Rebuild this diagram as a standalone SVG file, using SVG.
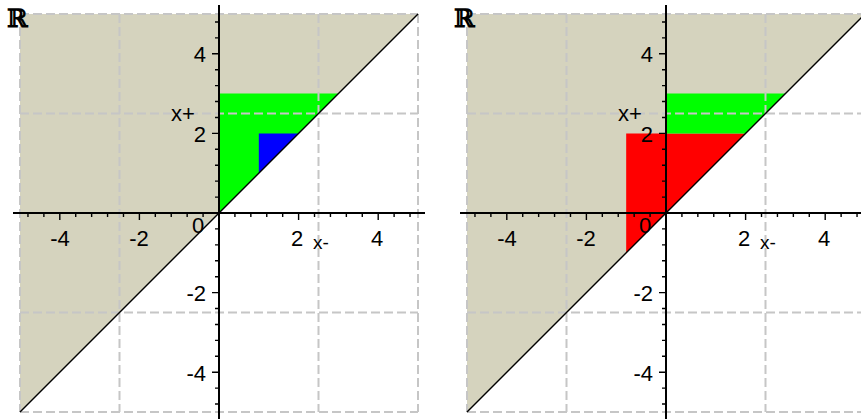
<svg xmlns="http://www.w3.org/2000/svg" width="861" height="419" viewBox="0 0 861 419">
<style>
.bg{fill:#ffffff}
.tan{fill:#d5d3be;stroke:none}
.grn{fill:#00ff00;stroke:none}
.blu{fill:#0000ff;stroke:none}
.red{fill:#ff0000;stroke:none}
.grid{stroke:#c6c6c6;stroke-width:2;stroke-dasharray:9 4;fill:none}
.diag{stroke:#000;stroke-width:1.4;fill:none}
.ax{stroke:#000;stroke-width:2;fill:none}
.tk{stroke:#000;stroke-width:1.4;fill:none}
.num{font-family:"Liberation Sans",Arial,sans-serif;font-size:22px;fill:#000}
.lab{font-family:"Liberation Sans",Arial,sans-serif;font-size:22px;fill:#000}
.rr{font-family:"DejaVu Serif","Liberation Serif",serif;font-size:25px;font-weight:bold;fill:#000}
</style>
<defs>
<path id="ticks" d="M-191.04 0v4M-175.12 0v4M-159.2 0v7M-143.28 0v4M-127.36 0v4M-111.44 0v4M-95.52 0v4M-79.6 0v7M-63.68 0v4M-47.76 0v4M-31.84 0v4M-15.92 0v4M15.92 0v4M31.84 0v4M47.76 0v4M63.68 0v4M79.6 0v7M95.52 0v4M111.44 0v4M127.36 0v4M143.28 0v4M159.2 0v7M175.12 0v4M191.04 0v4M0 -191.04h-4M0 -175.12h-4M0 -159.2h-7M0 -143.28h-4M0 -127.36h-4M0 -111.44h-4M0 -95.52h-4M0 -79.6h-7M0 -63.68h-4M0 -47.76h-4M0 -31.84h-4M0 -15.92h-4M0 15.92h-4M0 31.84h-4M0 47.76h-4M0 63.68h-4M0 79.6h-7M0 95.52h-4M0 111.44h-4M0 127.36h-4M0 143.28h-4M0 159.2h-7M0 175.12h-4M0 191.04h-4"/>
</defs>
<rect class="bg" x="0" y="0" width="861" height="419"/>

<g id="plot-left">
<polygon class="tan" points="20,412 20,14 418,14"/>
<polygon class="grn" points="219,213 219,93.6 338.4,93.6"/>
<polygon class="blu" points="258.8,173.2 258.8,133.4 298.6,133.4"/>
<path class="grid" d="M20 14V412M119.5 14V412M318.5 14V412M418 14V412M20 14H418M20 113.5H418M20 312.5H418M20 412H418"/>
<path class="diag" d="M20 412L418 14"/>
<path class="ax" d="M13 213H425M219 5V419"/>
<use href="#ticks" transform="translate(219,213)" class="tk"/>
<text class="rr" x="7" y="27">ℝ</text>
<g class="num" text-anchor="middle">
<text x="60" y="246">-4</text>
<text x="139" y="246">-2</text>
<text x="198" y="233">0</text>
<text x="297" y="246">2</text>
<text x="377" y="246">4</text>
</g>
<g class="num" text-anchor="end">
<text x="206" y="62">4</text>
<text x="206" y="142">2</text>
<text x="206" y="301">-2</text>
<text x="206" y="381">-4</text>
</g>
<text class="lab" x="171" y="121">x+</text>
<text class="lab" x="313" y="249" style="font-size:19px">x-</text>
</g>

<g id="plot-right">
<polygon class="tan" points="467,412 467,14 865,14"/>
<polygon class="red" points="626.2,252.8 626.2,133.4 745.6,133.4"/>
<polygon class="grn" points="666,133.4 666,93.6 785.4,93.6 745.6,133.4"/>
<path class="grid" d="M467 14V412M566.5 14V412M765.5 14V412M467 14H865M467 113.5H865M467 312.5H865M467 412H865"/>
<path class="diag" d="M467 412L865 14"/>
<path class="ax" d="M460 213H861M666 5V419"/>
<use href="#ticks" transform="translate(666,213)" class="tk"/>
<text class="rr" x="454" y="27">ℝ</text>
<g class="num" text-anchor="middle">
<text x="507" y="246">-4</text>
<text x="586" y="246">-2</text>
<text x="645" y="233">0</text>
<text x="744" y="246">2</text>
<text x="824" y="246">4</text>
</g>
<g class="num" text-anchor="end">
<text x="653" y="62">4</text>
<text x="653" y="142">2</text>
<text x="653" y="301">-2</text>
<text x="653" y="381">-4</text>
</g>
<text class="lab" x="618" y="121">x+</text>
<text class="lab" x="760" y="249" style="font-size:19px">x-</text>
</g>
</svg>
